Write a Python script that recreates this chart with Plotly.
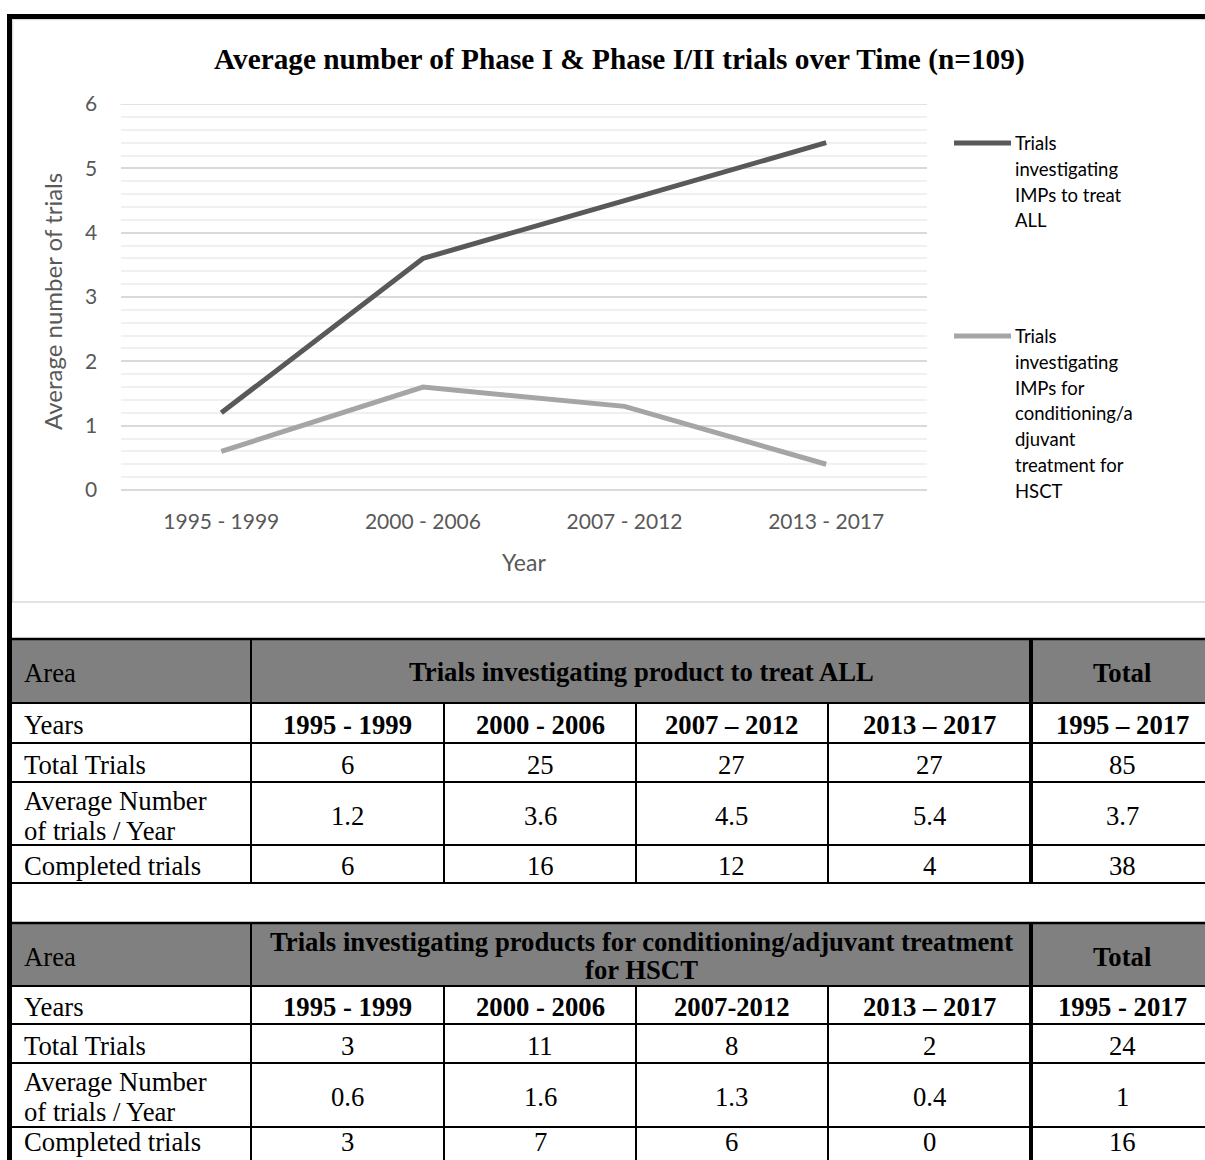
import plotly.graph_objects as go

W, H = 1205, 1160

# ---------------- data ----------------
periods = ["1995 - 1999", "2000 - 2006", "2007 - 2012", "2013 - 2017"]
avg_all = [1.2, 3.6, 4.5, 5.4]
avg_hsct = [0.6, 1.6, 1.3, 0.4]
series_names = ["Trials investigating IMPs to treat ALL",
                "Trials investigating IMPs for conditioning/adjuvant treatment for HSCT"]
legend_lines = [["Trials", "investigating", "IMPs to treat", "ALL"],
                ["Trials", "investigating", "IMPs for", "conditioning/a", "djuvant",
                 "treatment for", "HSCT"]]
y_ticks = [0, 1, 2, 3, 4, 5, 6]
chart_title = "Average number of Phase I & Phase I/II trials over Time (n=109)"
x_title = "Year"
y_title = "Average number of trials"

t1_title = ["Trials investigating product to treat ALL"]
t1_years = ["1995 - 1999", "2000 - 2006", "2007 – 2012", "2013 – 2017", "1995 – 2017"]
t1_total = [6, 25, 27, 27, 85]
t1_avg = [1.2, 3.6, 4.5, 5.4, 3.7]
t1_completed = [6, 16, 12, 4, 38]

t2_title = ["Trials investigating products for conditioning/adjuvant treatment", "for HSCT"]
t2_years = ["1995 - 1999", "2000 - 2006", "2007-2012", "2013 – 2017", "1995 - 2017"]
t2_total = [3, 11, 8, 2, 24]
t2_avg = [0.6, 1.6, 1.3, 0.4, 1]
t2_completed = [3, 7, 6, 0, 16]

area_label = "Area"
total_label = "Total"
row_labels = [["Years"], ["Total Trials"], ["Average Number", "of trials / Year"], ["Completed trials"]]

# ---------------- helpers ----------------
SERIF = "Liberation Serif"
SANS = "Lato"
shapes, annotations = [], []


def px(x):
    return x / W


def py(y):
    return 1 - y / H


def line(x0, y0, x1, y1, w=2, color="black"):
    shapes.append(dict(type="line", xref="paper", yref="paper", x0=px(x0), y0=py(y0),
                       x1=px(x1), y1=py(y1), line=dict(color=color, width=w)))


def rect(x0, y0, x1, y1, fill=None, color=None, w=0):
    shapes.append(dict(type="rect", xref="paper", yref="paper", x0=px(x0), y0=py(y0),
                       x1=px(x1), y1=py(y1), fillcolor=fill or "rgba(0,0,0,0)",
                       line=dict(color=color or "rgba(0,0,0,0)", width=w), layer="below"))


def text(x, y, s, size, bold=False, anchor="center", color="black", family=SERIF, angle=0):
    annotations.append(dict(x=px(x), y=py(y), xref="paper", yref="paper",
                            text=f"<b>{s}</b>" if bold else s, showarrow=False,
                            xanchor=anchor, yanchor="middle", textangle=angle,
                            font=dict(family=family, size=size, color=color)))


def multiline(x, yc, lines, size, spacing, **kw):
    n = len(lines)
    for i, s in enumerate(lines):
        text(x, yc + (i - (n - 1) / 2) * spacing, s, size, **kw)


# ---------------- chart ----------------
fig = go.Figure()
fig.add_trace(go.Scatter(x=periods, y=avg_hsct, mode="lines", name=series_names[1],
                         line=dict(color="#a5a5a5", width=5), showlegend=False))
fig.add_trace(go.Scatter(x=periods, y=avg_all, mode="lines", name=series_names[0],
                         line=dict(color="#595959", width=5), showlegend=False))

# frame
rect(12.5, 19.5, 1215, 602, color="#d9d9d9", w=1.5)
line(7, 16.5, 1210, 16.5, w=5)
line(9.5, 14, 9.5, 1165, w=5)

# top major gridline (ensured even at the range edge)
shapes.append(dict(type="line", xref="x domain", yref="y", x0=0, x1=1, y0=max(y_ticks), y1=max(y_ticks),
                   line=dict(color="#d9d9d9", width=1.5), layer="below"))

text(620, 60, chart_title, 29.3, bold=True, family=SERIF)
text(52, 302, y_title, 24, family=SANS, color="#595959", angle=-90)
text(524, 562, x_title, 23, family=SANS, color="#595959")

# manual legend
legend_colors = ["#595959", "#a5a5a5"]
legend_y = [143, 336]
for lines_, col, y0 in zip(legend_lines, legend_colors, legend_y):
    line(954, y0, 1011, y0, w=5, color=col)
    for i, s in enumerate(lines_):
        text(1013, y0 + 25.8 * i, s, 18.5, anchor="left", family=SANS, color="#000000")

# ---------------- tables ----------------
col_x = [11, 251, 444, 636, 828, 1031, 1215]
col_c = [347.5, 540, 732, 929.5, 1122]
FS = 26.7
DY = 2
MAX_TEXT_Y = 1142


def draw_table(rows, title_lines, years, total, avg, completed):
    top, hdr, r1, r2, r3, r4 = rows
    rect(11, top, 1215, hdr, fill="#808080")
    for y in rows:
        line(11, y, 1215, y, w=2.5 if y == top else 2)
    line(col_x[1], top, col_x[1], r4, w=2)
    for x in col_x[2:5]:
        line(x, hdr, x, r4, w=2)
    line(col_x[5], top, col_x[5], r4, w=4)
    hc = (top + hdr) / 2 + DY
    text(22, hc, area_label, FS, anchor="left")
    multiline((col_x[1] + col_x[5]) / 2, hc - 1, title_lines, FS, 28, bold=True)
    text(col_c[-1], hc, total_label, FS, bold=True)
    body = [(hdr, r1, years, True), (r1, r2, total, False), (r2, r3, avg, False), (r3, r4, completed, False)]
    for (a, b, vals, bold), lab in zip(body, row_labels):
        c = min((a + b) / 2 + DY, MAX_TEXT_Y)
        multiline(22, c, lab, FS, 30, anchor="left")
        for xc, v in zip(col_c, vals):
            text(xc, c, str(v), FS, bold=bold)


draw_table([639, 703, 743, 782, 845, 883], t1_title, t1_years, t1_total, t1_avg, t1_completed)
draw_table([923, 986, 1024, 1063, 1127, 1166], t2_title, t2_years, t2_total, t2_avg, t2_completed)

fig.update_layout(
    width=W, height=H, margin=dict(l=0, r=0, t=0, b=0, autoexpand=False),
    paper_bgcolor="white", plot_bgcolor="white",
    shapes=shapes, annotations=annotations, showlegend=False,
    xaxis=dict(domain=[px(120.5), px(927)], type="category", range=[-0.5, 3.5],
               showgrid=False, showline=False, zeroline=False, automargin=False,
               ticks="outside", ticklen=13, tickcolor="rgba(0,0,0,0)",
               tickfont=dict(family=SANS, size=21, color="#595959")),
    yaxis=dict(domain=[py(490), py(104)], range=[0, 6.001], tickvals=y_ticks,
               showgrid=True, gridcolor="#d9d9d9", gridwidth=1.5, automargin=False,
               zeroline=True, zerolinecolor="#d9d9d9", zerolinewidth=1.5, showline=False,
               ticks="outside", ticklen=18, tickcolor="rgba(0,0,0,0)",
               tickfont=dict(family=SANS, size=21, color="#595959"),
               minor=dict(dtick=0.2, tick0=0, showgrid=True, gridcolor="#f0f0f0", gridwidth=1.5)),
)

fig.write_html("out.html")
